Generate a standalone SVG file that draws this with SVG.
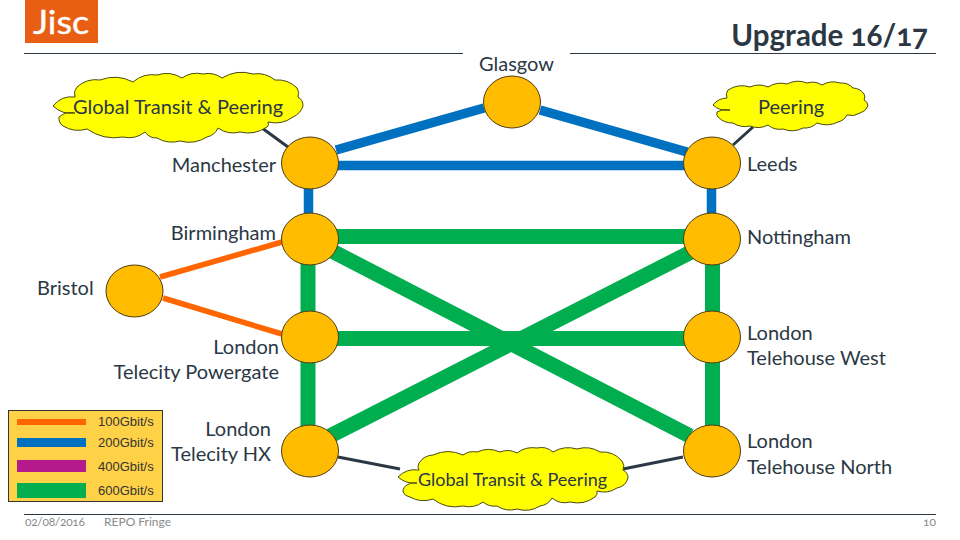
<svg xmlns="http://www.w3.org/2000/svg" width="960" height="540" viewBox="0 0 960 540">
<style>
text{font-family:"Lato","Open Sans",sans-serif;fill:#2b3844}
.l{font-size:20px}
.e{text-anchor:end}
.n{fill:#ffbc00;stroke:#4d3c10;stroke-width:1}
.c{fill:#ffff00;stroke:#4a4a10;stroke-width:1}
.b{stroke:#0070c0;stroke-width:9.500;fill:none}
.g{stroke:#00ae50;stroke-width:15;fill:none}
.o{stroke:#ff6600;stroke-width:5.500;fill:none}
.k{stroke:#2b3844;stroke-width:3;fill:none}
.r{stroke:#2b3844;stroke-width:1;fill:none}
.s{font-family:"Liberation Sans",sans-serif;font-size:13px;fill:#333}
.f{font-size:12px;fill:#8a8a8a;font-feature-settings:"onum"}
</style>
<rect x="25" y="0" width="73" height="43" fill="#e85e13"/>
<text x="33" y="34" font-size="32" style="fill:#fff;stroke:#fff;stroke-width:.4" textLength="56" lengthAdjust="spacingAndGlyphs">Jisc</text>
<path class="r" d="M24 53.500H463M570 53.500H936M24 514.500H936"/>
<text x="928" y="46" font-size="29.500" font-weight="700" text-anchor="end" style="font-feature-settings:'onum'">Upgrade 16/17</text>
<g id="connectors">
<path class="k" d="M262 128L288 147M753 127L733 145M338 457L400 469M623 469L683 457"/>
<path class="b" d="M308.500 163V240M711.500 163V240M336 165.500H690M336 150L484 108M540 110L687 152"/>
<path class="g" d="M310 236.500H712M308 240V451M712.500 240V451M310 338.500H712M330 250L690 436M330 436L695 250"/>
<path class="o" d="M160 277L282 242M163 298L282 334"/>
</g>
<g id="cloud-global-1">
<path class="c" d="M53 106A24 24 0 0 1 75 97A10 10 0 0 1 77 87A28 28 0 0 1 100 80A40 40 0 0 1 133 82A30 30 0 0 1 157 75A30 30 0 0 1 182 78A26 26 0 0 1 203 74A24 24 0 0 1 222 78A38 38 0 0 1 253 74A28 28 0 0 1 275 80A28 28 0 0 1 297 88A10 10 0 0 1 298 97A10 10 0 0 1 303 106A18 18 0 0 1 293 117A30 30 0 0 1 268 122A4 4 0 0 1 267 127A34 34 0 0 1 240 132A26 26 0 0 1 218 128A16 16 0 0 1 207 137A34 34 0 0 1 180 141A30 30 0 0 1 157 138A14 14 0 0 1 145 132A26 26 0 0 1 123 137A48 48 0 0 1 87 129A30 30 0 0 1 63 126A10 10 0 0 1 59 117A18 18 0 0 1 75 113A26 26 0 0 1 53 106Z"/>
<text class="l" x="73" y="114">Global Transit &amp; Peering</text>
</g>
<g id="cloud-peering">
<path class="c" d="M713 105A18 18 0 0 1 727 98A8 8 0 0 1 728 90A26 26 0 0 1 750 87A22 22 0 0 1 768 87A24 24 0 0 1 787 84A24 24 0 0 1 807 83A18 18 0 0 1 822 85A22 22 0 0 1 840 83A16 16 0 0 1 853 88A14 14 0 0 1 864 94A6 6 0 0 1 864 100A7 7 0 0 1 868 106A12 12 0 0 1 860 113A16 16 0 0 1 847 115A14 14 0 0 1 838 122A26 26 0 0 1 817 123A18 18 0 0 1 803 128A24 24 0 0 1 783 129A18 18 0 0 1 768 125A22 22 0 0 1 750 126A22 22 0 0 1 733 123A20 20 0 0 1 718 117A5 5 0 0 1 717 112A16 16 0 0 1 730 110A20 20 0 0 1 713 105Z"/>
<text class="l" x="758" y="114">Peering</text>
</g>
<g id="cloud-global-2">
<path class="c" d="M398 477A24 24 0 0 1 419 470A7 7 0 0 1 419 463A18 18 0 0 1 433 455A36 36 0 0 1 463 455A18 18 0 0 1 477 452A28 28 0 0 1 500 452A20 20 0 0 1 517 453A26 26 0 0 1 537 448A18 18 0 0 1 553 452A30 30 0 0 1 577 449A28 28 0 0 1 600 452A26 26 0 0 1 622 461A9 9 0 0 1 623 470A9 9 0 0 1 628 478A14 14 0 0 1 617 488A24 24 0 0 1 597 491A6 6 0 0 1 595 497A30 30 0 0 1 570 502A20 20 0 0 1 552 498A16 16 0 0 1 540 506A28 28 0 0 1 517 509A24 24 0 0 1 497 506A18 18 0 0 1 483 502A24 24 0 0 1 463 506A36 36 0 0 1 433 499A28 28 0 0 1 410 497A9 9 0 0 1 403 492A8 8 0 0 1 407 485A12 12 0 0 1 417 483A24 24 0 0 1 398 477Z"/>
<text x="418" y="486" style="font-size:18px">Global Transit &amp; Peering</text>
</g>
<g id="node-glasgow"><ellipse class="n" cx="512" cy="102" rx="28.500" ry="26"/><text class="l" x="479" y="71">Glasgow</text></g>
<g id="node-manchester"><ellipse class="n" cx="310" cy="163" rx="28.500" ry="26"/><text class="l e" x="276" y="172">Manchester</text></g>
<g id="node-leeds"><ellipse class="n" cx="712" cy="163" rx="28.500" ry="26"/><text class="l" x="747" y="171">Leeds</text></g>
<g id="node-birmingham"><ellipse class="n" cx="310" cy="239" rx="28.500" ry="26"/><text class="l e" x="276" y="240">Birmingham</text></g>
<g id="node-nottingham"><ellipse class="n" cx="712" cy="239" rx="28.500" ry="26"/><text class="l" x="747" y="244">Nottingham</text></g>
<g id="node-bristol"><ellipse class="n" cx="134.500" cy="291" rx="28.500" ry="26"/><text class="l" x="37" y="295">Bristol</text></g>
<g id="node-telecity-powergate"><ellipse class="n" cx="310" cy="337" rx="28.500" ry="26"/><text class="l e" x="279" y="354">London</text><text class="l e" x="279" y="379">Telecity Powergate</text></g>
<g id="node-telehouse-west"><ellipse class="n" cx="712" cy="337" rx="28.500" ry="26"/><text class="l" x="747" y="340">London</text><text class="l" x="747" y="365">Telehouse West</text></g>
<g id="node-telecity-hx"><ellipse class="n" cx="310" cy="451" rx="28.500" ry="26"/><text class="l e" x="271" y="436">London</text><text class="l e" x="271" y="461">Telecity HX</text></g>
<g id="node-telehouse-north"><ellipse class="n" cx="712" cy="451" rx="28.500" ry="26"/><text class="l" x="747" y="448">London</text><text class="l" x="747" y="474">Telehouse North</text></g>
<g id="legend">
<rect x="8.500" y="410.500" width="154" height="91" fill="#ffd147" stroke="#333"/>
<rect x="17" y="419" width="69" height="6" fill="#ff6600"/>
<rect x="17" y="438" width="69" height="9" fill="#0070c0"/>
<rect x="17" y="460" width="69" height="12" fill="#b5198c"/>
<rect x="17" y="483" width="69" height="15" fill="#00ae50"/>
<text class="s" x="98" y="426">100Gbit/s</text>
<text class="s" x="98" y="447">200Gbit/s</text>
<text class="s" x="98" y="471">400Gbit/s</text>
<text class="s" x="98" y="495">600Gbit/s</text>
</g>
<text class="f" x="25" y="526" textLength="60">02/08/2016</text>
<text class="f" x="104" y="526" textLength="67">REPO Fringe</text>
<text class="f" x="936" y="526" text-anchor="end">10</text>
</svg>
